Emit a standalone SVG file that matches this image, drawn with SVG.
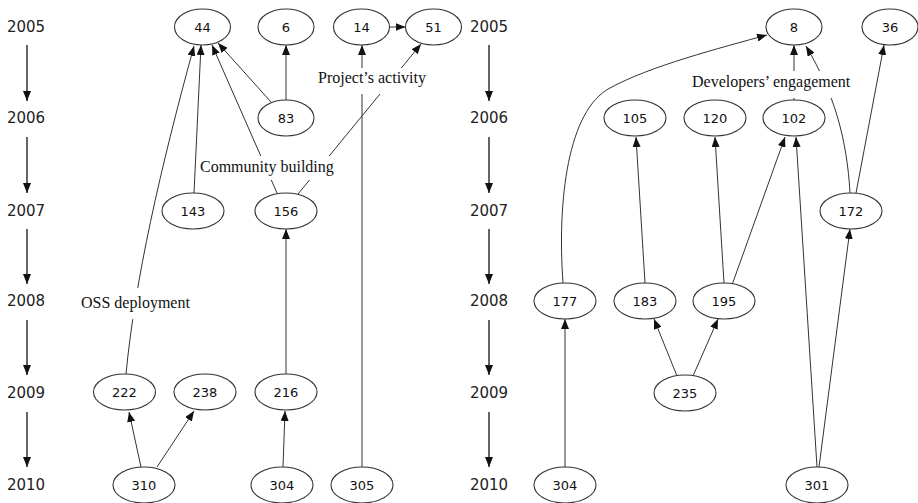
<svg xmlns="http://www.w3.org/2000/svg" width="918" height="503" viewBox="0 0 918 503">
<defs>
<marker id="ah" markerUnits="userSpaceOnUse" markerWidth="10" markerHeight="8" refX="10" refY="4" orient="auto">
<path d="M0,0 L10,4 L0,8 z" fill="#111"/>
</marker>
<style>
.n ellipse{fill:#fff;stroke:#333;stroke-width:1.1}
.n text{font-family:"DejaVu Sans",sans-serif;font-size:13px;fill:#111;text-anchor:middle}
.yr{font-family:"DejaVu Sans",sans-serif;font-size:15px;fill:#222;text-anchor:middle}
.e line,.e path{stroke:#333;stroke-width:1;fill:none;marker-end:url(#ah)}
.ya line{stroke:#111;stroke-width:1.3;marker-end:url(#ah)}
.lb rect{fill:#fff}
.lb text{font-family:"Liberation Serif","Times New Roman",serif;font-size:16px;fill:#111}
</style>
</defs>
<rect width="918" height="503" fill="#fff"/>

<g id="years-left">
<text class="yr" x="26" y="32">2005</text>
<text class="yr" x="26" y="123">2006</text>
<text class="yr" x="26" y="216">2007</text>
<text class="yr" x="26" y="306">2008</text>
<text class="yr" x="26" y="398">2009</text>
<text class="yr" x="26" y="490">2010</text>
</g>
<g id="years-right">
<text class="yr" x="489" y="32">2005</text>
<text class="yr" x="489" y="123">2006</text>
<text class="yr" x="489" y="216">2007</text>
<text class="yr" x="489" y="306">2008</text>
<text class="yr" x="489" y="398">2009</text>
<text class="yr" x="489" y="490">2010</text>
</g>
<g id="year-arrows" class="ya">
<line x1="27" y1="45" x2="27" y2="101"/>
<line x1="27" y1="137" x2="27" y2="193"/>
<line x1="27" y1="229" x2="27" y2="284"/>
<line x1="27" y1="320" x2="27" y2="375"/>
<line x1="27" y1="412" x2="27" y2="467"/>
<line x1="489" y1="45" x2="489" y2="101"/>
<line x1="489" y1="137" x2="489" y2="193"/>
<line x1="489" y1="229" x2="489" y2="284"/>
<line x1="489" y1="320" x2="489" y2="375"/>
<line x1="489" y1="412" x2="489" y2="467"/>
</g>

<g id="connectors" class="e">
<line x1="389.5" y1="27" x2="405.5" y2="27"/>
<line x1="286" y1="100" x2="286" y2="45"/>
<line x1="271" y1="102" x2="218" y2="43"/>
<line x1="194" y1="193" x2="201" y2="45"/>
<line x1="277" y1="193" x2="212" y2="45"/>
<path d="M126,374 C135,280 160,170 194,46"/>
<line x1="298" y1="194" x2="421" y2="44"/>
<line x1="286" y1="374" x2="286" y2="229"/>
<line x1="362" y1="467" x2="362" y2="45"/>
<line x1="141" y1="467" x2="129" y2="412"/>
<line x1="157" y1="467" x2="194" y2="411"/>
<line x1="283" y1="467" x2="285" y2="411"/>

<path d="M563,283 C557,200 568,110 610,88 C650,66 720,48 767,35"/>
<line x1="794" y1="100" x2="794" y2="45"/>
<path d="M850,193 C847,140 835,95 806,46"/>
<line x1="856" y1="193" x2="884" y2="45"/>
<line x1="645" y1="283" x2="636" y2="137"/>
<line x1="724" y1="283" x2="715" y2="137"/>
<line x1="732" y1="285" x2="785" y2="137"/>
<line x1="817" y1="467" x2="796" y2="137"/>
<line x1="819" y1="467" x2="850" y2="229"/>
<line x1="677" y1="376" x2="654" y2="319"/>
<line x1="693" y1="376" x2="718" y2="319"/>
<line x1="565" y1="467" x2="565" y2="319"/>
</g>

<g id="labels" class="lb">
<g id="lbl-project"><rect x="315" y="68" width="116" height="26"/><text x="318" y="83">Project’s activity</text></g>
<g id="lbl-community"><rect x="198" y="156" width="137" height="24"/><text x="200" y="172">Community building</text></g>
<g id="lbl-oss"><rect x="79" y="288" width="112" height="31"/><text x="81" y="308">OSS deployment</text></g>
<g id="lbl-dev"><rect x="689" y="71" width="162" height="27"/><text x="692" y="87">Developers’ engagement</text></g>
</g>

<g id="n44" class="n"><ellipse cx="202.5" cy="27" rx="28" ry="18"/><text x="202.5" y="31.5">44</text></g>
<g id="n6" class="n"><ellipse cx="286" cy="27" rx="28" ry="18"/><text x="286" y="31.5">6</text></g>
<g id="n14" class="n"><ellipse cx="361.5" cy="27" rx="28" ry="18"/><text x="361.5" y="31.5">14</text></g>
<g id="n51" class="n"><ellipse cx="433.5" cy="27" rx="28" ry="18"/><text x="433.5" y="31.5">51</text></g>
<g id="n83" class="n"><ellipse cx="286" cy="118" rx="28" ry="18"/><text x="286" y="122.5">83</text></g>
<g id="n143" class="n"><ellipse cx="193" cy="211" rx="31" ry="18"/><text x="193" y="215.5">143</text></g>
<g id="n156" class="n"><ellipse cx="286" cy="211" rx="31" ry="18"/><text x="286" y="215.5">156</text></g>
<g id="n222" class="n"><ellipse cx="124.5" cy="392" rx="31" ry="18"/><text x="124.5" y="396.5">222</text></g>
<g id="n238" class="n"><ellipse cx="205" cy="392" rx="31" ry="18"/><text x="205" y="396.5">238</text></g>
<g id="n216" class="n"><ellipse cx="286" cy="392" rx="31" ry="18"/><text x="286" y="396.5">216</text></g>
<g id="n310" class="n"><ellipse cx="144" cy="485" rx="31" ry="18"/><text x="144" y="489.5">310</text></g>
<g id="n304a" class="n"><ellipse cx="282" cy="485" rx="31" ry="18"/><text x="282" y="489.5">304</text></g>
<g id="n305" class="n"><ellipse cx="362" cy="485" rx="31" ry="18"/><text x="362" y="489.5">305</text></g>

<g id="n8" class="n"><ellipse cx="794" cy="27" rx="28" ry="18"/><text x="794" y="31.5">8</text></g>
<g id="n36" class="n"><ellipse cx="890" cy="27" rx="28" ry="18"/><text x="890" y="31.5">36</text></g>
<g id="n105" class="n"><ellipse cx="635" cy="118" rx="31" ry="18"/><text x="635" y="122.5">105</text></g>
<g id="n120" class="n"><ellipse cx="715" cy="118" rx="31" ry="18"/><text x="715" y="122.5">120</text></g>
<g id="n102" class="n"><ellipse cx="794" cy="118" rx="31" ry="18"/><text x="794" y="122.5">102</text></g>
<g id="n172" class="n"><ellipse cx="851" cy="211" rx="31" ry="18"/><text x="851" y="215.5">172</text></g>
<g id="n177" class="n"><ellipse cx="565" cy="301" rx="31" ry="18"/><text x="565" y="305.5">177</text></g>
<g id="n183" class="n"><ellipse cx="645" cy="301" rx="31" ry="18"/><text x="645" y="305.5">183</text></g>
<g id="n195" class="n"><ellipse cx="724" cy="301" rx="31" ry="18"/><text x="724" y="305.5">195</text></g>
<g id="n235" class="n"><ellipse cx="685" cy="393" rx="31" ry="18"/><text x="685" y="397.5">235</text></g>
<g id="n304b" class="n"><ellipse cx="565" cy="485" rx="31" ry="18"/><text x="565" y="489.5">304</text></g>
<g id="n301" class="n"><ellipse cx="817" cy="485" rx="31" ry="18"/><text x="817" y="489.5">301</text></g>
</svg>
